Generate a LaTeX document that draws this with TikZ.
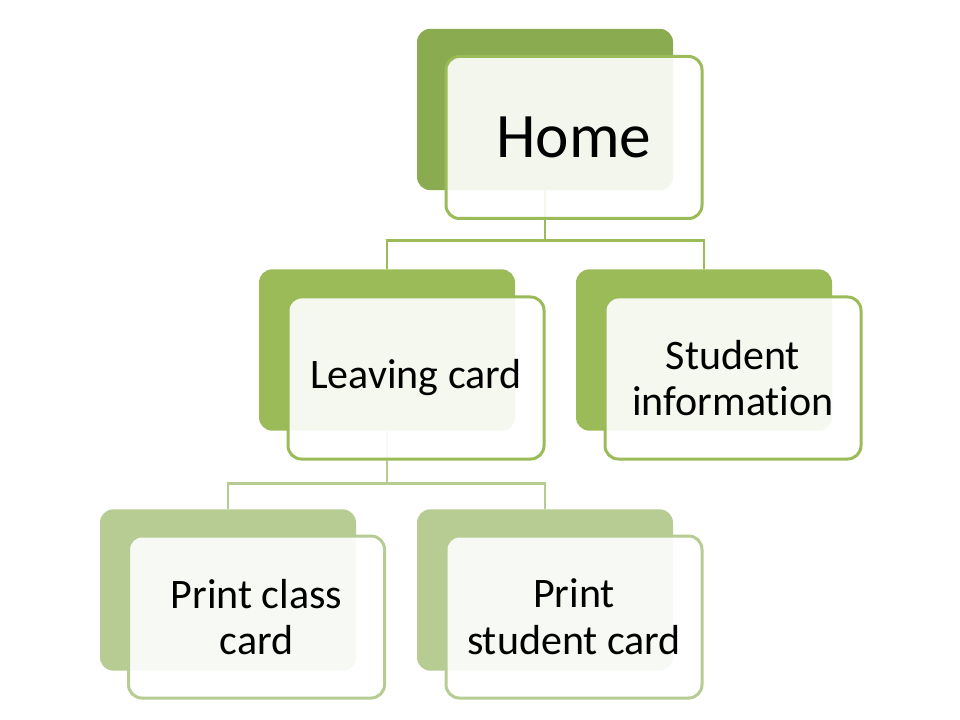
\documentclass[tikz,border=0pt]{standalone}
\usepackage{fontspec}
\setmainfont[Ligatures={NoCommon}]{Carlito}
\usetikzlibrary{positioning,backgrounds}
\definecolor{leafA}{HTML}{8BAB50}
\definecolor{leafB}{HTML}{9BBB59}
\definecolor{leafC}{HTML}{B7CC92}
\tikzset{font={\fontsize{31.5pt}{35pt}\selectfont}}

\begin{document}
\begin{tikzpicture}[x=0.75pt,y=-0.75pt,
backcard/.style={rounded corners=10pt,minimum width=192pt,minimum height=121pt,inner sep=0pt,fill=#1},
frontcard/.style={draw=#1,line width=2.25pt,rounded corners=10pt,fill=white,fill opacity=0.9,text opacity=1,
  minimum width=192pt,minimum height=121.5pt,inner sep=0pt,align=center},
link/.style={draw=#1,line width=2.2pt}
]
\useasboundingbox (0,0) rectangle (960,720);

\node[backcard=leafA] (homeB) at (545,109.5) {};
\node[frontcard=leafB,font={\fontsize{47.5pt}{55pt}\selectfont}] (home) at ([shift={(29,28)}]homeB.center) {Home};

\node[backcard=leafB] (leaveB) at (387,350) {};
\node[frontcard=leafB] (leave) at ([shift={(29,28)}]leaveB.center) {Leaving card};
\node[backcard=leafB] (infoB) at (704,350) {};
\node[frontcard=leafB] (info) at ([shift={(29,28)}]infoB.center) {Student\\information};

\node[backcard=leafC] (classB) at (228,590) {};
\node[frontcard=leafC] (class) at ([shift={(28.5,27)}]classB.center) {Print class\\card};
\node[backcard=leafC] (cardB) at (545,590) {};
\node[frontcard=leafC] (card) at ([shift={(29,27)}]cardB.center) {Print\\student card};

\begin{scope}[on background layer]
\draw[link=leafB] (homeB.south) -- ++(0,50) -| (leaveB.north);
\draw[link=leafB] (homeB.south) -- ++(0,50) -| (infoB.north);
\draw[link=leafC] (leaveB.south) -- ++(0,53) -| (classB.north);
\draw[link=leafC] (leaveB.south) -- ++(0,53) -| (cardB.north);
\end{scope}
\end{tikzpicture}
\end{document}
